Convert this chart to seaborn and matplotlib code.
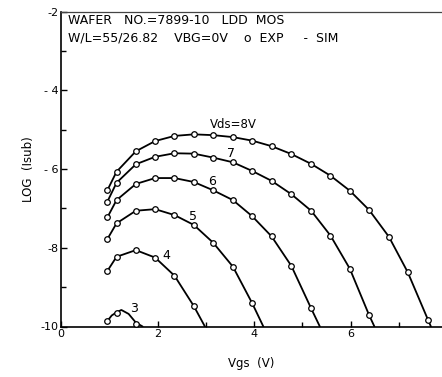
import matplotlib
matplotlib.use("Agg")
import matplotlib.pyplot as plt
import seaborn as sns
import pandas as pd
from matplotlib.ticker import FixedLocator

# ---- data ----
vgs = [0.96, 1.15, 1.55, 1.95, 2.35, 2.75, 3.15, 3.56, 3.96, 4.36, 4.77, 5.18,
       5.58, 5.98, 6.38, 6.79, 7.18, 7.60]

exp_8 = [-6.54, -6.07, -5.55, -5.29, -5.16, -5.12, -5.14, -5.19, -5.28, -5.42,
         -5.62, -5.87, -6.17, -6.55, -7.04, -7.72, -8.62, -9.83]
exp_7 = [-6.83, -6.35, -5.88, -5.69, -5.60, -5.61, -5.71, -5.83, -6.05, -6.30,
         -6.64, -7.06, -7.69, -8.53, -9.71]
exp_6 = [-7.23, -6.79, -6.38, -6.23, -6.23, -6.33, -6.54, -6.79, -7.20, -7.71,
         -8.46, -9.54]
exp_5 = [-7.78, -7.38, -7.06, -7.02, -7.17, -7.42, -7.87, -8.48, -9.41]
exp_4 = [-8.59, -8.23, -8.06, -8.25, -8.71, -9.48]
exp_3 = [-9.86, -9.66, -9.94]

# simulated curves: measured points plus where each curve meets the axis
sim_end_x = {8: 7.66, 7: 6.49, 6: 5.36, 5: 4.19, 4: 2.98}
sim3_x = [0.96, 1.05, 1.15, 1.25, 1.40, 1.55, 1.69]
sim3_y = [-9.86, -9.72, -9.64, -9.58, -9.68, -9.90, -10.0]

labels = ["Vds=8V", "7", "6", "5", "4", "3"]
label_x = [3.56, 3.53, 3.13, 2.73, 2.19, 1.52]
label_y = [-4.86, -5.61, -6.31, -7.21, -8.19, -9.54]

y_ticks = [-2, -4, -6, -8, -10]
y_ticklabels = ["-2", "- 4", "- 6", "-8", "-10"]
x_ticks = [0, 2, 4, 6]
x_ticklabels = ["0", "2", "4", "6"]

# ---- figure ----
sns.set_theme(style="ticks")
plt.rcParams['font.family'] = ['DejaVu Sans']
plt.rcParams['axes.unicode_minus'] = False
plt.rcParams['text.color'] = 'black'
plt.rcParams['axes.labelcolor'] = 'black'
plt.rcParams['xtick.color'] = 'black'
plt.rcParams['ytick.color'] = 'black'

fig = plt.figure(figsize=(4.42, 3.77), dpi=100)
ax = fig.add_axes([61/442, 50.5/377, 1 - 61/442, (326.5 - 11.5)/377])

exp_sets = {8: exp_8, 7: exp_7, 6: exp_6, 5: exp_5, 4: exp_4, 3: exp_3}
for vds, ys in exp_sets.items():
    xs = vgs[:len(ys)]
    if vds == 3:
        sx, sy = sim3_x, sim3_y
    else:
        sx = xs + [sim_end_x[vds]]
        sy = ys + [-10.0]
    sim_df = pd.DataFrame({"Vgs": sx, "logI": sy})
    sns.lineplot(data=sim_df, x="Vgs", y="logI", ax=ax, color="black",
                 lw=1.3, sort=False, estimator=None, zorder=2)
    exp_df = pd.DataFrame({"Vgs": xs, "logI": ys})
    sns.scatterplot(data=exp_df, x="Vgs", y="logI", ax=ax, marker="o",
                    s=16, facecolor="white", edgecolor="black", linewidth=0.9,
                    zorder=3)

for t, x, y in zip(labels, label_x, label_y):
    ax.text(x, y, t, ha="center", va="center", fontsize=9 if len(t) == 1 else 8.5,
            color="black")

ax.text(0.15, -2.22, "WAFER   NO.=7899-10   LDD  MOS", fontsize=9, va="center", ha="left")
ax.text(0.15, -2.67, "W/L=55/26.82    VBG=0V    o  EXP     -  SIM", fontsize=9,
        va="center", ha="left")

ax.set_xlim(0, 7.89)
ax.set_ylim(-10, -2)
ax.set_yticks(y_ticks)
ax.set_yticklabels(y_ticklabels, fontsize=8)
ax.set_xticks(x_ticks)
ax.set_xticklabels(x_ticklabels, fontsize=8)
ax.yaxis.set_minor_locator(FixedLocator([-3, -5, -7, -9]))
ax.xaxis.set_minor_locator(FixedLocator([3, 5, 7]))
ax.tick_params(axis="both", which="both", direction="in", length=4, width=1.0,
               color="black")
ax.tick_params(axis="both", which="minor", length=3.5)
ax.tick_params(axis="y", which="major", pad=2)
ax.tick_params(axis="x", which="major", pad=2)

ax.set_xlabel("Vgs  (V)", fontsize=8.5, labelpad=13)
ax.set_ylabel("LOG  (Isub)", fontsize=8.5, labelpad=4)

for s in ["left", "bottom"]:
    ax.spines[s].set_color("black")
    ax.spines[s].set_linewidth(1.2)
ax.spines["top"].set_color("#444444")
ax.spines["top"].set_linewidth(0.9)
ax.spines["right"].set_visible(False)
ax.grid(False)

fig.savefig("out.png", dpi=100)
